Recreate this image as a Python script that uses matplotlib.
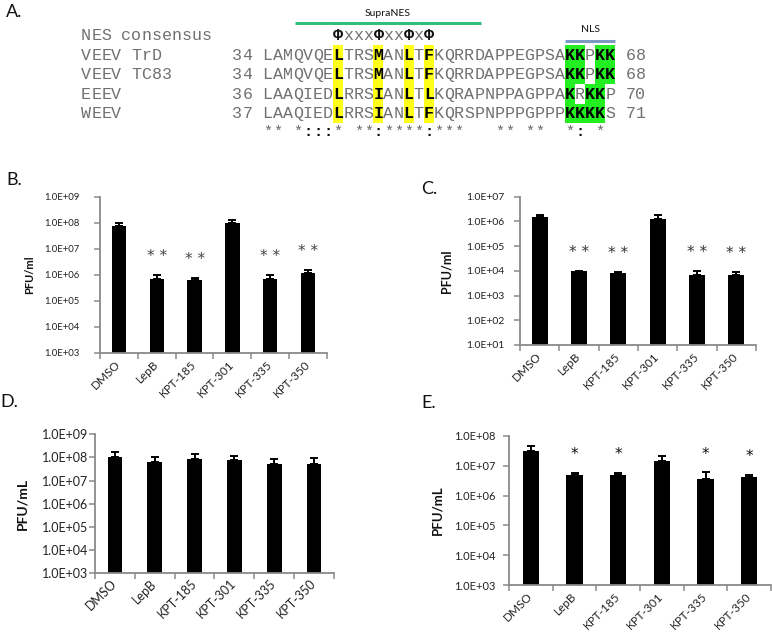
import matplotlib
matplotlib.use('Agg')
import matplotlib.pyplot as plt
import numpy as np
from matplotlib.patches import Rectangle
from matplotlib.ticker import NullLocator, FixedLocator

# ---------------- data ----------------
categories = ['DMSO', 'LepB', 'KPT-185', 'KPT-301', 'KPT-335', 'KPT-350']

b_vals = [7.5e7, 7.0e5, 6.0e5, 1.0e8, 7.0e5, 1.15e6]
b_err = [2.0e7, 3.0e5, 1.5e5, 3.0e7, 3.0e5, 3.5e5]
b_sig = ['', '**', '**', '', '**', '**']

c_vals = [1.5e6, 9.5e3, 8.5e3, 1.3e6, 7.0e3, 7.0e3]
c_err = [4.0e5, 5.0e2, 3.0e2, 6.0e5, 3.0e3, 2.0e3]
c_sig = ['', '**', '**', '', '**', '**']

d_vals = [1.05e8, 6.5e7, 9.0e7, 7.5e7, 5.3e7, 5.3e7]
d_err = [6.0e7, 3.5e7, 5.0e7, 4.0e7, 3.0e7, 4.5e7]
d_sig = ['', '', '', '', '', '']

e_vals = [3.2e7, 4.9e6, 4.9e6, 1.5e7, 3.6e6, 4.2e6]
e_err = [1.3e7, 1.0e6, 1.0e6, 6.0e6, 2.4e6, 8.0e5]
e_sig = ['', '*', '*', '', '*', '*']

seq_names = ['VEEV TrD', 'VEEV TC83', 'EEEV', 'WEEV']
seq_start = [34, 34, 36, 37]
seq_end = [68, 68, 70, 71]
sequences = ['LAMQVQELTRSMANLTFKQRRDAPPEGPSAKKPKK',
             'LAMQVQELTRSMANLTFKQRRDAPPEGPSAKKPKK',
             'LAAQIEDLRRSIANLTLKQRAPNPPAGPPAKRKKP',
             'LAAQIEDLRRSIANLTFKQRSPNPPPGPPPKKKKS']
consensus_label = 'NES consensus'
consensus_motif = 'ΦxxxΦxxΦxΦ'
motif_start = 7
nes_cols = [7, 11, 14, 16]
nls_cols = [[30, 31, 33, 34], [30, 31, 33, 34], [30, 32, 33], [30, 31, 32, 33]]
conservation = '** *:::* **:****:***   ** **  *: * '

# ---------------- figure ----------------
W, H = 772, 634
fig = plt.figure(figsize=(W / 100, H / 100), dpi=100)
ov = fig.add_axes([0, 0, 1, 1])
ov.set_xlim(0, W)
ov.set_ylim(H, 0)
ov.axis('off')

SANS = 'Lato'
MONO = 'Liberation Mono'
GRAY = '#8a8a8a'
SEQC = '#707070'

# panel labels
for lab, x, y in [('A.', 6, 17), ('B.', 6, 185), ('C.', 421, 194), ('D.', 0, 407), ('E.', 421, 408)]:
    ov.text(x, y, lab, fontsize=13, family=SANS, ha='left', va='baseline', color='#111')

# ---------------- panel A: alignment ----------------
pitch = 10.08
x0 = 267.5
row_h = 19.4
rows_y = [55 + i * row_h for i in range(len(sequences))]
cons_y = 35.5
star_y = 131


def colx(c):
    return x0 + c * pitch


def put(col, yc, ch, bold=False, color=SEQC, size=12):
    ov.text(colx(col), yc + 4.8, ch, fontsize=size, family=MONO, ha='center',
            va='baseline', color=color, fontweight='bold' if bold else 'normal', zorder=5)


# highlights
for i, yc in enumerate(rows_y):
    for c in nes_cols:
        ov.add_patch(Rectangle((colx(c) - pitch / 2, yc - row_h / 2), pitch, row_h,
                               facecolor='#ffff1a', edgecolor='none', zorder=2))
    for c in nls_cols[i]:
        ov.add_patch(Rectangle((colx(c) - pitch / 2, yc - row_h / 2), pitch, row_h,
                               facecolor='#22ee22', edgecolor='none', zorder=2))

# labels
for k, ch in enumerate(consensus_label):
    put(-18 + k, cons_y, ch)
for k, ch in enumerate(consensus_motif):
    put(motif_start + k, cons_y, ch, bold=(ch == 'Φ'), color='#111' if ch == 'Φ' else SEQC)

for i, yc in enumerate(rows_y):
    for k, ch in enumerate(seq_names[i]):
        put(-18 + k, yc, ch)
    for k, ch in enumerate(str(seq_start[i])):
        put(-3 + k, yc, ch)
    for c, ch in enumerate(sequences[i]):
        hl = c in nes_cols or c in nls_cols[i]
        put(c, yc, ch, bold=hl, color='#000' if hl else SEQC)
    for k, ch in enumerate(str(seq_end[i])):
        put(len(sequences[i]) + 1 + k, yc, ch)

for c, ch in enumerate(conservation):
    if ch != ' ':
        put(c, star_y, ch, bold=(ch == ':'), color='#111' if ch == ':' else '#666', size=11)

# SupraNES / NLS bars
ov.plot([295, 481], [23.3, 23.3], color='#2fbf7c', lw=2.2, solid_capstyle='butt')
ov.text(388, 13, 'SupraNES', fontsize=7.5, family=SANS, ha='center', va='center', color='#111')
ov.plot([colx(30) - pitch / 2, colx(34) + pitch / 2], [40.5, 40.5], color='#7b9cc0', lw=2.2,
        solid_capstyle='butt')
ov.text(591, 30, 'NLS', fontsize=7.5, family=SANS, ha='center', va='center', color='#111')


# ---------------- bar panels ----------------
def px_axes(l, r, t, b):
    return fig.add_axes([l / W, 1 - b / H, (r - l) / W, (b - t) / H])


def bar_panel(box, vals, errs, sig, e0, e1, ylabel, ylab_x, barw, ysize, xsize, labsize,
              ypad, xpad, sigsize, sigcolor):
    l, r, t, b = box
    ax = px_axes(l, r, t, b)
    x = np.arange(len(categories))
    ax.bar(x, vals, width=barw, color='black', zorder=2, log=True)
    ax.errorbar(x, vals, yerr=[np.zeros(len(vals)), errs], fmt='none', ecolor='black',
                elinewidth=1.4, capsize=3.2, capthick=1.4, zorder=3)
    ax.set_yscale('log')
    ax.set_ylim(10.0 ** e0, 10.0 ** e1)
    ax.set_xlim(-0.5, len(categories) - 0.5)
    ax.yaxis.set_major_locator(FixedLocator([10.0 ** k for k in range(e0, e1 + 1)]))
    ax.yaxis.set_minor_locator(NullLocator())
    ax.set_yticklabels(['1.0E+%02d' % k for k in range(e0, e1 + 1)], family=SANS,
                       fontsize=ysize, color='#222')
    ax.set_xticks(x)
    ax.set_xticklabels(categories, rotation=45, ha='right', va='center',
                       rotation_mode='anchor', family=SANS, fontsize=xsize, color='#222')
    ax.xaxis.set_minor_locator(FixedLocator(np.arange(-0.5, len(categories))))
    ax.tick_params(axis='x', which='major', length=0, pad=xpad)
    ax.tick_params(axis='x', which='minor', length=4, width=1.1, color=GRAY)
    ax.tick_params(axis='y', which='major', length=4, width=1.1, color=GRAY, pad=ypad)
    for s in ['top', 'right']:
        ax.spines[s].set_visible(False)
    for s in ['left', 'bottom']:
        ax.spines[s].set_color(GRAY)
        ax.spines[s].set_linewidth(1.3)
    ax.set_ylabel(ylabel, family=SANS, fontweight='bold', fontsize=labsize, color='#111')
    ax.yaxis.set_label_coords((ylab_x - l) / (r - l), 0.5)
    for xi, v, e, s in zip(x, vals, errs, sig):
        if s:
            ax.annotate(' '.join(s), (xi, v + e), xytext=(0, 10), textcoords='offset points',
                        ha='center', va='baseline', fontsize=sigsize, family='DejaVu Sans',
                        color=sigcolor)
    ax.set_facecolor('none')
    return ax


bar_panel((100, 327, 196.7, 352.7), b_vals, b_err, b_sig, 3, 9, 'PFU/ml', 35, 0.38,
          6.8, 8.5, 8, 11, 7, 11, '#444')
bar_panel((520, 756, 196.7, 345), c_vals, c_err, c_sig, 1, 7, 'PFU/ml', 452, 0.40,
          7.5, 8.5, 9, 7, 7, 11, '#333')
bar_panel((95, 334, 434.3, 573.3), d_vals, d_err, d_sig, 3, 9, 'PFU/mL', 28, 0.37,
          9, 9, 10, 1, 6, 11, '#222')
bar_panel((509, 771, 436, 585), e_vals, e_err, e_sig, 3, 8, 'PFU/mL', 443, 0.38,
          8, 8.5, 9.5, 6, 7, 11, '#111')

fig.savefig('out.png', dpi=100)
